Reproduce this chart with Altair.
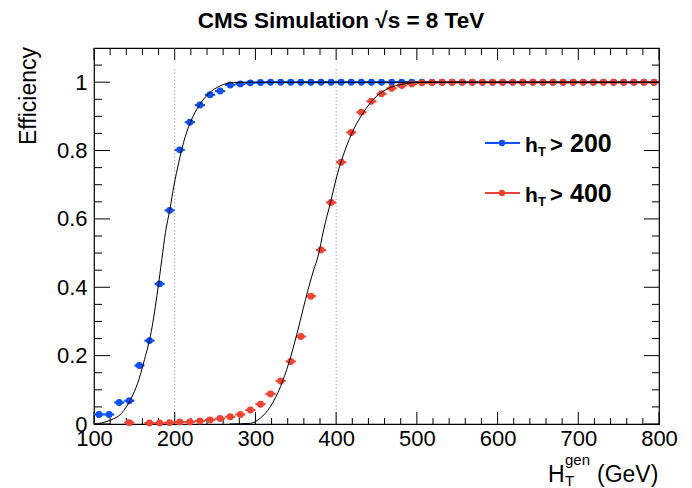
import altair as alt
import pandas as pd

# ---------------- data ----------------
bin_centers = [106.25, 118.75, 131.25, 143.75, 156.25, 168.75, 181.25, 193.75,
               206.25, 218.75, 231.25, 243.75, 256.25, 268.75, 281.25, 293.75,
               306.25, 318.75, 331.25, 343.75, 356.25, 368.75, 381.25, 393.75,
               406.25, 418.75, 431.25, 443.75, 456.25, 468.75, 481.25, 493.75,
               506.25, 518.75, 531.25, 543.75, 556.25, 568.75, 581.25, 593.75,
               606.25, 618.75, 631.25, 643.75, 656.25, 668.75, 681.25, 693.75,
               706.25, 718.75, 731.25, 743.75, 756.25, 768.75, 781.25, 793.75]
bin_half_width = 6.25

eff_ht200 = [0.028, 0.028, 0.063, 0.068, 0.171, 0.244, 0.410, 0.625,
             0.802, 0.883, 0.933, 0.963, 0.974, 0.992, 0.995, 0.998,
             0.999, 1.0, 1.0, 1.0, 1.0, 1.0, 1.0, 1.0,
             1.0, 1.0, 1.0, 1.0, 1.0, 1.0, 1.0, 1.0,
             1.0, 1.0, 1.0, 1.0, 1.0, 1.0, 1.0, 1.0,
             1.0, 1.0, 1.0, 1.0, 1.0, 1.0, 1.0, 1.0,
             1.0, 1.0, 1.0, 1.0, 1.0, 1.0, 1.0, 1.0]

eff_ht400 = [None, None, None, 0.004, None, 0.003, 0.003, 0.004,
             0.006, 0.006, 0.009, 0.012, 0.016, 0.021, 0.028, 0.041,
             0.058, 0.088, 0.126, 0.183, 0.256, 0.374, 0.509, 0.648,
             0.766, 0.853, 0.912, 0.944, 0.966, 0.982, 0.990, 0.995,
             0.998, 0.999, 1.0, 1.0, 1.0, 1.0, 1.0, 1.0,
             1.0, 1.0, 1.0, 1.0, 1.0, 1.0, 1.0, 1.0,
             1.0, 1.0, 1.0, 1.0, 1.0, 1.0, 1.0, 1.0]

fit200_x = [100, 109, 121, 134, 146, 154, 162.5, 171, 179, 184, 188.5, 194,
            199, 205, 211, 219.5, 230, 242, 257, 273, 290, 800]
fit200_y = [0.0, 0.003, 0.012, 0.031, 0.075, 0.119, 0.188, 0.271, 0.393, 0.481,
            0.560, 0.628, 0.697, 0.765, 0.824, 0.883, 0.931, 0.966, 0.990, 0.999,
            1.0, 1.0]
fit400_x = [268, 294, 306, 318.6, 331, 341.3, 351.7, 362, 372.3, 377.5, 384.6,
            393, 401, 411.5, 422, 434, 446.6, 463, 484, 500, 520, 800]
fit400_y = [0.0, 0.002, 0.017, 0.051, 0.109, 0.178, 0.266, 0.364, 0.452, 0.49,
            0.569, 0.648, 0.726, 0.804, 0.863, 0.912, 0.951, 0.980, 0.995, 0.999,
            1.0, 1.0]

thresholds = [200, 400]
threshold_top = 1.045

x_major = [100, 200, 300, 400, 500, 600, 700, 800]
x_minor = [v for v in range(120, 800, 20) if v % 100]
y_major = [0, 0.2, 0.4, 0.6, 0.8, 1.0]
y_minor = [0.05, 0.1, 0.15, 0.25, 0.3, 0.35, 0.45, 0.5, 0.55, 0.65, 0.7, 0.75,
           0.85, 0.9, 0.95, 1.05]

# ---------------- style ----------------
W, H = 565, 376
BLUE = "#0a50f5"
RED = "#ee4433"
FONT = "Liberation Sans"

XS = alt.Scale(domain=[100, 800], nice=False, zero=False)
YS = alt.Scale(domain=[0, 1.1], nice=False, zero=True)
XA = alt.Axis(values=x_major, format="d", labelPadding=4, title=None,
              ticks=False, tickSize=0, domain=False, grid=False,
              labelFlush=False, labelOverlap=False, labelBound=False)
YA = alt.Axis(values=y_major, format="~g", labelPadding=7, title=None,
              ticks=False, tickSize=0, domain=False, grid=False,
              labelFlush=False, labelOverlap=False, labelBound=False)


def X(field):
    return alt.X(field, type="quantitative", scale=XS, axis=XA)


def Y(field):
    return alt.Y(field, type="quantitative", scale=YS, axis=YA)


def points_df(effs):
    rows = []
    for c, e in zip(bin_centers, effs):
        if e is None:
            continue
        rows.append({"x": c, "y": e, "lo": c - bin_half_width, "hi": c + bin_half_width})
    return pd.DataFrame(rows)


def series_layers(effs, color):
    df = points_df(effs)
    base = alt.Chart(df)
    bars = base.mark_rule(color=color, strokeWidth=2.2).encode(
        x=X("lo"), x2="hi", y=Y("y"))
    dots = base.mark_circle(color=color, size=48, opacity=1).encode(
        x=X("x"), y=Y("y"))
    return [bars, dots]


def fit_layer(xs, ys):
    df = pd.DataFrame({"x": xs, "y": ys})
    return alt.Chart(df).mark_line(color="black", strokeWidth=1,
                                   interpolate="monotone").encode(
        x=X("x"), y=Y("y"), order="x:Q")


def txt(s, x, y, size, bold=False, color="black", angle=0, align="left"):
    return alt.Chart(pd.DataFrame({"t": [s]})).mark_text(
        text=s, font=FONT, fontSize=size, fontWeight="bold" if bold else "normal",
        color=color, angle=angle, align=align, baseline="alphabetic").encode(
        x=alt.value(x), y=alt.value(y))


layers = []

# threshold dotted lines
thr_df = pd.DataFrame({"x": thresholds, "y0": [0] * len(thresholds),
                       "y1": [threshold_top] * len(thresholds)})
layers.append(alt.Chart(thr_df).mark_rule(color="#aaaaaa", strokeWidth=1,
                                          strokeDash=[1.5, 2]).encode(
    x=X("x"), y=Y("y0"), y2="y1"))

# tick marks (inward, all four sides)
xmaj = alt.Chart(pd.DataFrame({"x": x_major}))
xmin = alt.Chart(pd.DataFrame({"x": x_minor}))
ymaj = alt.Chart(pd.DataFrame({"y": y_major}))
ymin = alt.Chart(pd.DataFrame({"y": y_minor}))
TK = dict(color="black", strokeWidth=1)
layers += [
    xmaj.mark_rule(**TK).encode(x=X("x"), y=alt.value(H), y2=alt.value(H - 12)),
    xmin.mark_rule(**TK).encode(x=X("x"), y=alt.value(H), y2=alt.value(H - 6)),
    xmaj.mark_rule(**TK).encode(x=X("x"), y=alt.value(0), y2=alt.value(12)),
    xmin.mark_rule(**TK).encode(x=X("x"), y=alt.value(0), y2=alt.value(7)),
    ymaj.mark_rule(**TK).encode(y=Y("y"), x=alt.value(0), x2=alt.value(16)),
    ymin.mark_rule(**TK).encode(y=Y("y"), x=alt.value(0), x2=alt.value(8)),
    ymaj.mark_rule(**TK).encode(y=Y("y"), x=alt.value(W), x2=alt.value(W - 15)),
    ymin.mark_rule(**TK).encode(y=Y("y"), x=alt.value(W), x2=alt.value(W - 7)),
]

# data points and fits
layers += series_layers(eff_ht200, BLUE)
layers += series_layers(eff_ht400, RED)
layers.append(fit_layer(fit200_x, fit200_y))
layers.append(fit_layer(fit400_x, fit400_y))

# legend
for ly, color, label in [(95, BLUE, "200"), (145, RED, "400")]:
    layers.append(alt.Chart(pd.DataFrame({"a": [0]})).mark_rule(
        color=color, strokeWidth=2).encode(
        x=alt.value(391), x2=alt.value(426), y=alt.value(ly)))
    layers.append(alt.Chart(pd.DataFrame({"a": [0]})).mark_circle(
        color=color, size=40, opacity=1).encode(
        x=alt.value(408), y=alt.value(ly)))
    layers.append(txt("h", 431, ly + 9, 21, bold=True))
    layers.append(txt("T", 444, ly + 13, 13, bold=True))
    layers.append(txt(">", 456, ly + 9, 22, bold=True))
    layers.append(txt(label, 476, ly + 9, 25, bold=True))

# titles
layers.append(txt("CMS Simulation √s = 8 TeV", 247, -20, 22.5, bold=True,
                   align="center"))
layers.append(txt("Efficiency", -58, -1, 23, angle=270, align="right"))
layers.append(txt("H", 454, 434, 23))
layers.append(txt("T", 471, 438, 15))
layers.append(txt("gen", 471, 417, 15))
layers.append(txt("(GeV)", 503, 434, 23))

chart = alt.layer(*layers).properties(
    width=W, height=H,
    autosize=alt.AutoSizeParams(type="none"),
    padding={"left": 86, "top": 40, "right": 25, "bottom": 64},
).configure_view(stroke="black", strokeWidth=1.2).configure_axis(
    labelFont=FONT, labelColor="black", labelFontSize=22)

chart.save("out.html", embed_options={"renderer": "svg", "actions": False})
